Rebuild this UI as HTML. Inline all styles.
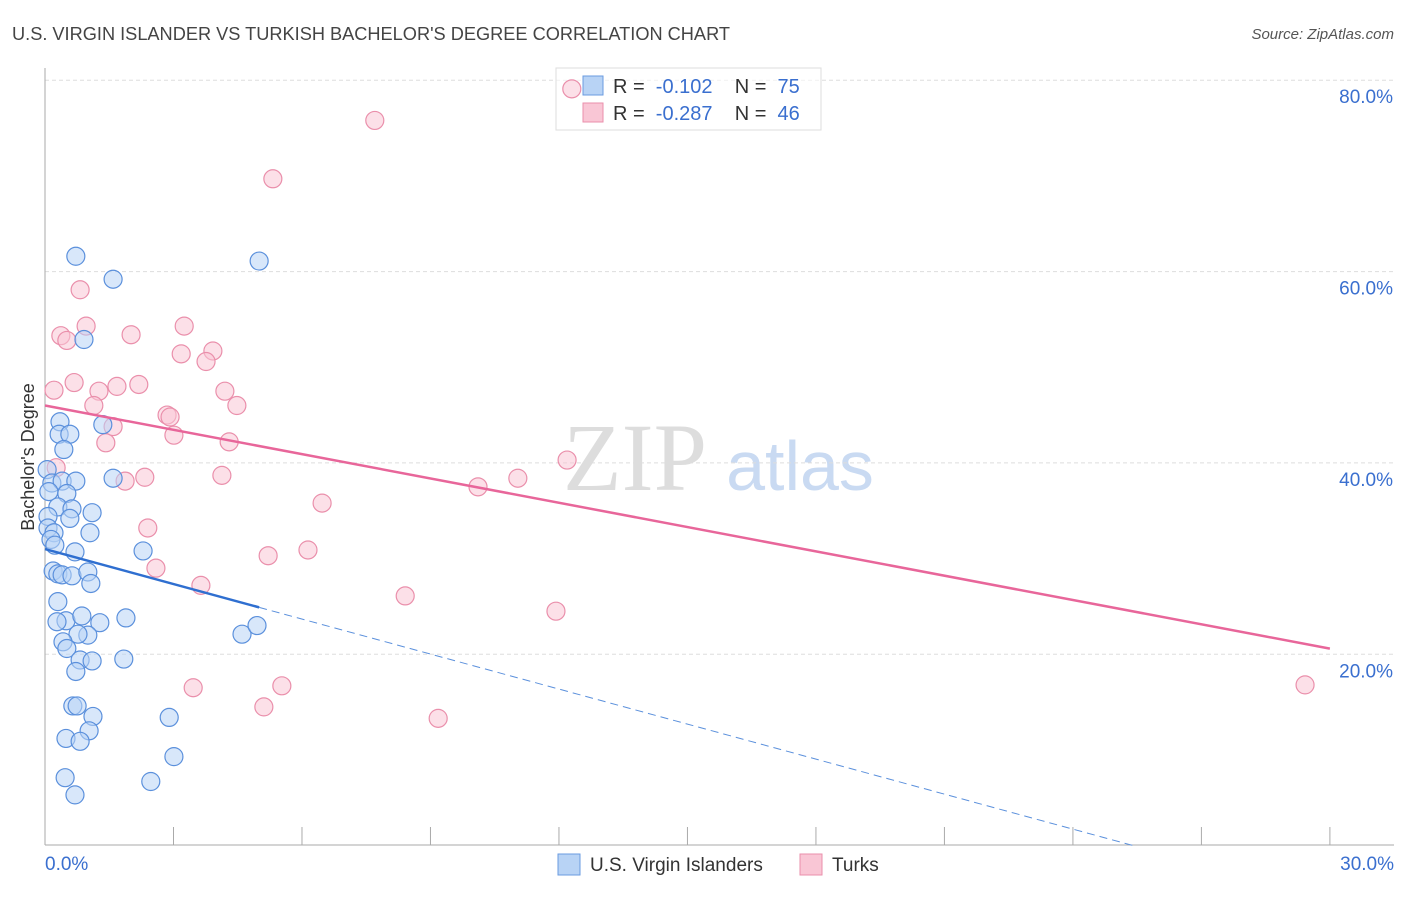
<!DOCTYPE html>
<html><head><meta charset="utf-8"><style>
body{margin:0;background:#fff;font-family:"Liberation Sans",sans-serif}
</style></head><body>
<svg id="chart" width="1406" height="892" xmlns="http://www.w3.org/2000/svg" font-family="Liberation Sans, sans-serif">
<text x="12" y="40" font-size="18.2" fill="#444">U.S. VIRGIN ISLANDER VS TURKISH BACHELOR'S DEGREE CORRELATION CHART</text>
<text x="1394" y="39" font-size="15" fill="#555" text-anchor="end" font-style="italic">Source: ZipAtlas.com</text>
<g>
<text x="635" y="490" font-size="96" fill="#ddd" text-anchor="middle" font-family="Liberation Serif, serif">ZIP</text>
<text x="800" y="490" font-size="70" fill="#c9daf2" text-anchor="middle">atlas</text>
</g>
<g id="grid"></g><g id="axes"></g>
<g>
<rect x="556" y="68" width="265" height="62" fill="#fff" fill-opacity="0.6" stroke="#ddd"/>
<rect x="583" y="76" width="20" height="19" fill="#b8d3f5" stroke="#6a9be0"/>
<rect x="583" y="103" width="20" height="19" fill="#f9c6d5" stroke="#ea8fab"/>
<text x="613" y="93" font-size="20" fill="#333" xml:space="preserve">R =  <tspan fill="#3a6fcf">-0.102</tspan>    N =  <tspan fill="#3a6fcf">75</tspan></text>
<text x="613" y="120" font-size="20" fill="#333" xml:space="preserve">R =  <tspan fill="#3a6fcf">-0.287</tspan>    N =  <tspan fill="#3a6fcf">46</tspan></text>
</g>
<g id="marks"></g>
<text transform="translate(34,457) rotate(-90)" font-size="18" fill="#333" text-anchor="middle">Bachelor's Degree</text>
<g>
<rect x="558" y="854" width="22" height="21" fill="#b8d3f5" stroke="#6a9be0"/>
<text x="590" y="871" font-size="19" fill="#333">U.S. Virgin Islanders</text>
<rect x="800" y="854" width="22" height="21" fill="#f9c6d5" stroke="#ea8fab"/>
<text x="832" y="871" font-size="19" fill="#333">Turks</text>
</g>
</svg>
<script>
const yTicks=[20,40,60,80];
const xTickLabels=["0.0%","30.0%"];
const blueX=[0.72,1.59,5.0,0.91,0.35,0.33,0.58,1.35,0.44,1.59,0.05,0.16,0.40,0.72,0.09,0.51,0.30,0.63,1.10,0.07,0.58,0.07,0.21,0.14,0.23,1.05,2.29,0.70,0.19,0.30,0.40,0.63,1.00,1.07,0.30,0.49,0.86,1.89,0.28,1.28,4.60,4.95,1.00,0.77,0.42,0.51,0.82,1.10,1.84,0.72,0.65,0.75,1.12,2.90,1.03,0.49,0.82,3.01,0.47,2.47,0.70];
const blueY=[61.6,59.2,61.1,52.9,44.3,43.0,43.0,44.0,41.4,38.4,39.3,37.9,38.1,38.1,37.0,36.8,35.4,35.2,34.8,34.4,34.2,33.2,32.7,32.0,31.4,32.7,30.8,30.7,28.7,28.4,28.3,28.2,28.6,27.4,25.5,23.5,24.0,23.8,23.4,23.3,22.1,23.0,22.0,22.1,21.3,20.6,19.4,19.3,19.5,18.2,14.6,14.6,13.5,13.4,12.0,11.2,10.9,9.3,7.1,6.7,5.3];
const pinkX=[12.30,7.70,5.32,0.82,0.37,0.96,0.51,2.01,3.25,3.18,3.92,3.76,0.68,0.21,1.26,1.68,2.19,1.14,4.20,4.48,2.85,2.92,1.59,3.01,1.42,4.30,0.26,2.33,1.87,4.13,12.19,11.04,10.11,6.47,2.40,2.59,5.21,6.14,3.64,8.41,11.93,3.46,5.53,5.11,9.18,29.42];
const pinkY=[79.1,75.8,69.7,58.1,53.3,54.3,52.8,53.4,54.3,51.4,51.7,50.6,48.4,47.6,47.5,48.0,48.2,46.0,47.5,46.0,45.0,44.8,43.8,42.9,42.1,42.2,39.5,38.5,38.1,38.7,40.3,38.4,37.5,35.8,33.2,29.0,30.3,30.9,27.2,26.1,24.5,16.5,16.7,14.5,13.3,16.8];
const blueTrend=[31.0,-1.22];
const pinkTrend=[46.0,-0.847];
const sx=v=>45+v*42.83, sy=v=>845.6-v*9.567;
const NS="http://www.w3.org/2000/svg";
function mk(p,t,a){const e=document.createElementNS(NS,t);for(const k in a)e.setAttribute(k,a[k]);p.appendChild(e);return e;}
const grid=document.getElementById('grid'),axes=document.getElementById('axes'),marks=document.getElementById('marks');
yTicks.forEach(v=>{
 const l=mk(grid,'line',{x1:45,x2:1394,y1:sy(v),y2:sy(v),stroke:'#ddd','stroke-dasharray':'4,3'});
 
 
 const t=mk(grid,'text',{x:1393,y:sy(v)+23,'font-size':19,fill:'#3a6fcf','text-anchor':'end'});
 t.textContent=v.toFixed(1)+'%';
 
 
});
const ax=mk(axes,'line',{x1:45,x2:45,y1:68,y2:845,stroke:'#aaa'});


const bx=mk(axes,'line',{x1:45,x2:1394,y1:845,y2:845,stroke:'#aaa'});


for(let i=0;i<=10;i++){const tk=mk(axes,'line',{x1:sx(i*3),x2:sx(i*3),y1:827,y2:845,stroke:'#aaa'});
 
 }
[[0,'start'],[30,'end']].forEach((p,i)=>{const t=mk(axes,'text',{x:i?1394:45,y:870,'font-size':19,fill:'#3a6fcf','text-anchor':p[1]});t.textContent=xTickLabels[i];
 
 });
function dots(X,Y,fill,stroke,name){X.forEach((x,i)=>{const c=mk(marks,'circle',{cx:sx(x),cy:sy(Y[i]),r:9,fill:fill,'fill-opacity':0.55,stroke:stroke,'stroke-width':1.2});
 
 });}
dots(pinkX,pinkY,'#f9c6d5','#ea8fab','turks-point');
dots(blueX,blueY,'#b8d3f5','#5b90dc','virgin-islanders-point');
const pl=mk(marks,'line',{x1:sx(0),y1:sy(pinkTrend[0]),x2:sx(30),y2:sy(pinkTrend[0]+30*pinkTrend[1]),stroke:'#e8669a','stroke-width':2.5});


const bl=mk(marks,'line',{x1:sx(0),y1:sy(blueTrend[0]),x2:sx(5),y2:sy(blueTrend[0]+5*blueTrend[1]),stroke:'#2f6fd0','stroke-width':2.5});


const xe=-blueTrend[0]/blueTrend[1];
const bd=mk(marks,'line',{x1:sx(5),y1:sy(blueTrend[0]+5*blueTrend[1]),x2:sx(xe),y2:sy(0),stroke:'#5b90dc','stroke-width':1,'stroke-dasharray':'8,5'});


</script>
</body></html>
